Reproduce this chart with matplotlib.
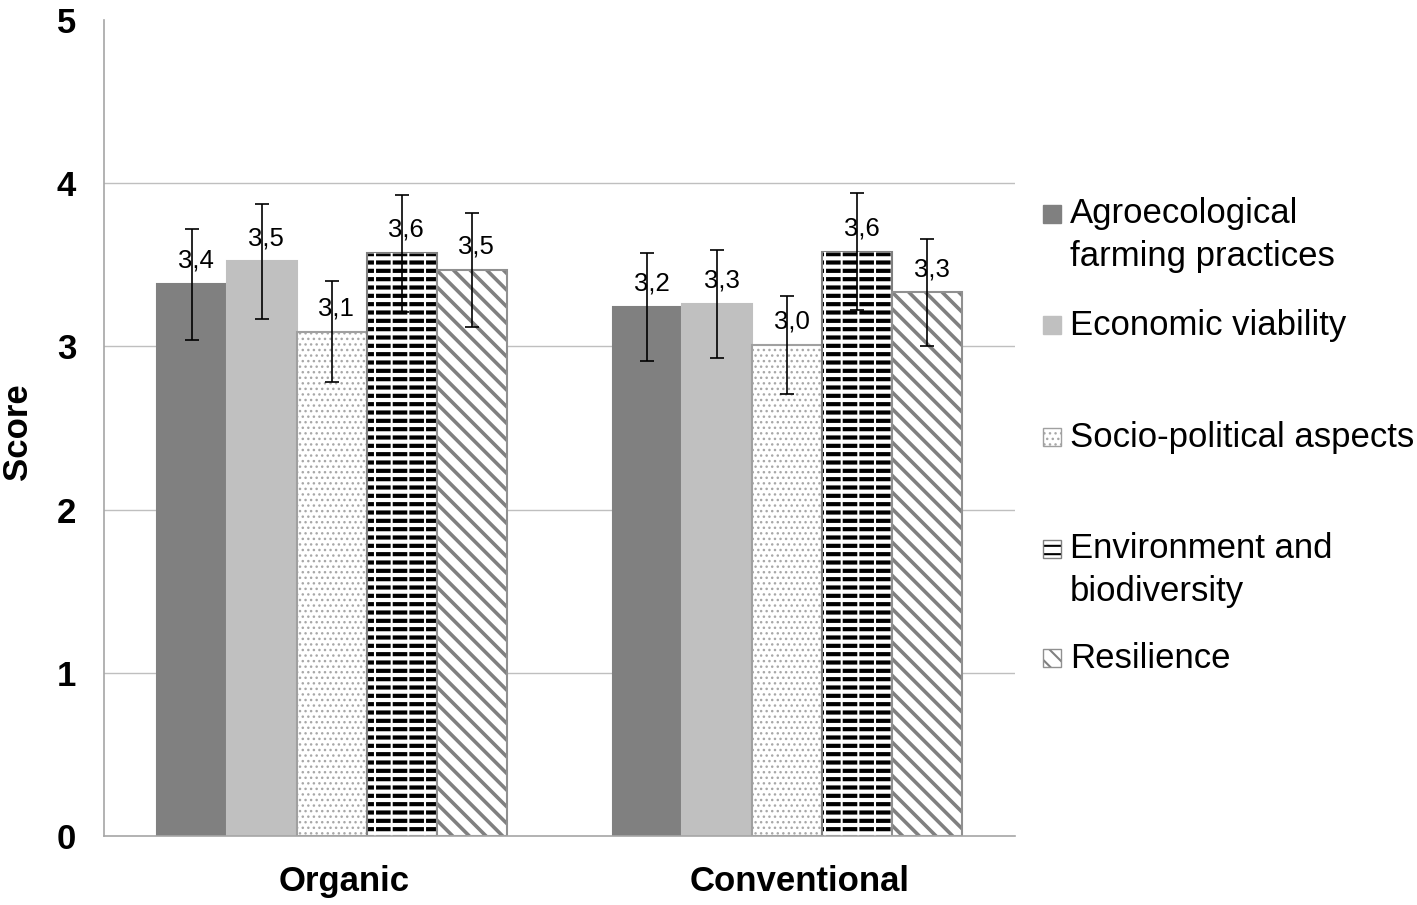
import numpy as np
import matplotlib
matplotlib.use('Agg')
import matplotlib.pyplot as plt
from matplotlib.patches import Rectangle
from matplotlib.transforms import ScaledTranslation

plt.rcParams['font.family'] = ['Liberation Sans', 'DejaVu Sans']

# Data
groups = ['Organic', 'Conventional']
dimensions = ['Agroecological\nfarming practices', 'Economic viability',
              'Socio-political aspects', 'Environment and\nbiodiversity', 'Resilience']
scores = [
    [3.38, 3.24],   # Agroecological farming practices
    [3.52, 3.26],   # Economic viability
    [3.09, 3.01],   # Socio-political aspects
    [3.57, 3.58],   # Environment and biodiversity
    [3.47, 3.33],   # Resilience
]
errors = [
    [0.34, 0.33],
    [0.355, 0.33],
    [0.31, 0.30],
    [0.36, 0.36],
    [0.35, 0.33],
]
labels = [
    ['3,4', '3,2'],
    ['3,5', '3,3'],
    ['3,1', '3,0'],
    ['3,6', '3,6'],
    ['3,5', '3,3'],
]

# Bar styles: (facecolor, edgecolor, hatch, hatch color, hatch linewidth)
styles = [
    ('#808080', '#808080', None, None, 1),
    ('#c0c0c0', '#c0c0c0', None, None, 1),
    ('white', '#a0a0a0', '...', '#a8a8a8', 1.0),
    ('white', '#808080', '--', 'black', 3.0),
    ('white', '#909090', '\\\\', '#808080', 2.6),
]


def style_hatch(patch, color, lw):
    patch._hatch_color = matplotlib.colors.to_rgba(color)
    if hasattr(patch, 'set_hatch_linewidth'):
        patch.set_hatch_linewidth(lw)


fig = plt.figure(figsize=(14.17, 9.05), dpi=100)
ax = fig.add_axes([0.0734, 0.0762, 0.643, 0.9018])

x = np.arange(len(groups)) + 0.5
width = 0.1535
label_shift = ax.transData + ScaledTranslation(0.045, 0, fig.dpi_scale_trans)

for i in range(len(dimensions)):
    fc, ec, hatch, hc, hlw = styles[i]
    pos = x + (i - 2) * width
    bars = ax.bar(pos, scores[i], width, color=fc, edgecolor=ec, linewidth=1.5,
                  hatch=hatch, zorder=2)
    if hatch:
        for b in bars:
            style_hatch(b, hc, hlw)
    if i == 3:
        # white vertical breaks in the horizontal-line pattern
        over = ax.bar(pos, scores[i], width * 0.96, color='none', edgecolor='white',
                      linewidth=0, hatch='|', zorder=2.5)
        for b in over:
            style_hatch(b, 'white', 1.5)
    ax.errorbar(pos, scores[i], yerr=errors[i], fmt='none', ecolor='black',
                elinewidth=1.2, capsize=5, capthick=1.2, zorder=3)
    for p, s, lab in zip(pos, scores[i], labels[i]):
        ax.text(p, s + 0.07, lab, ha='center', va='bottom', fontsize=18.5,
                zorder=4, transform=label_shift)

ax.set_xlim(0, 2)
ax.set_ylim(0, 5)
ax.set_yticks([0, 1, 2, 3, 4, 5])
ax.set_yticklabels(['0', '1', '2', '3', '4', '5'], fontsize=25, fontweight='bold')
ax.set_xticks(x)
ax.set_xticklabels(groups, fontsize=25, fontweight='bold')
ax.tick_params(axis='y', length=0, pad=20)
ax.tick_params(axis='x', length=0, pad=21)
for t in ax.get_xticklabels():
    t.set_transform(t.get_transform() + ScaledTranslation(0.12, 0, fig.dpi_scale_trans))

W, H = 1417, 905
fig.text(18 / W, (H - 432) / H, 'Score', rotation=90, fontsize=25,
         fontweight='bold', ha='center', va='center')

for yv in [1, 2, 3, 4]:
    ax.axhline(yv, color='#bfbfbf', linewidth=1, zorder=1)
for side in ['top', 'right']:
    ax.spines[side].set_visible(False)
ax.spines['left'].set_color('#a6a6a6')
ax.spines['bottom'].set_color('#a6a6a6')
ax.spines['left'].set_linewidth(1.2)
ax.spines['bottom'].set_linewidth(1.2)

# Legend drawn by hand to keep the uneven spacing of the original
leg_y = [235, 325, 437, 570, 658]  # pixel centres of each entry
for i, lab in enumerate(dimensions):
    fc, ec, hatch, hc, hlw = styles[i]
    nlines = lab.count('\n') + 1
    box_y = leg_y[i] - (nlines - 1) * 21
    r = Rectangle((1043 / W, (H - box_y - 9) / H), 18 / W, 18 / H,
                  transform=fig.transFigure, facecolor=fc, edgecolor=ec,
                  linewidth=1, hatch=hatch)
    if hatch:
        style_hatch(r, hc, min(hlw, 1.5))
    fig.patches.append(r)
    fig.text(1070 / W, (H - leg_y[i]) / H, lab, fontsize=25, va='center',
             ha='left', linespacing=1.36)

fig.savefig('out.png', dpi=100)
